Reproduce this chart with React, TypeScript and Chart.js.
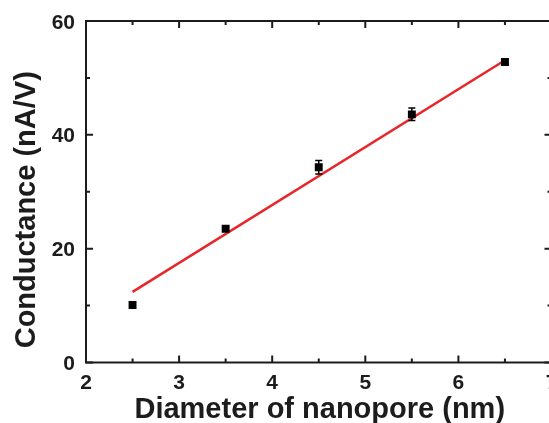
import React, { useEffect, useRef } from "react";
import { Chart, registerables } from "chart.js";

Chart.register(...registerables);

// ---- data ----
const diameters = [2.5, 3.5, 4.5, 5.5, 6.5];
const conductance = [10.1, 23.5, 34.3, 43.6, 52.8];
const conductanceErr = [0.5, 0.4, 1.2, 1.1, 0.5];
const fitX = [2.5, 6.5];
const fitY = [12.4, 53.1];
const xTickValues = [2, 3, 4, 5, 6, 7];
const xMinorValues = [2.5, 3.5, 4.5, 5.5, 6.5];
const yTickValues = [0, 20, 40, 60];
const yMinorValues = [10, 30, 50];
const xTitle = "Diameter of nanopore (nm)";
const yTitle = "Conductance (nA/V)";

const INK = "#1c1c1c";
const FONT = "'Liberation Sans', Arial, sans-serif";

const framePlugin = {
  id: "framePlugin",
  afterDatasetsDraw(chart: any) {
    const ctx = chart.ctx;
    const xs = chart.scales.x;
    const ys = chart.scales.y;
    // error bars
    ctx.save();
    ctx.strokeStyle = "#000";
    ctx.lineWidth = 1.5;
    diameters.forEach((d, i) => {
      const px = xs.getPixelForValue(d);
      const pTop = ys.getPixelForValue(conductance[i] + conductanceErr[i]);
      const pBot = ys.getPixelForValue(conductance[i] - conductanceErr[i]);
      ctx.beginPath();
      ctx.moveTo(px, pTop);
      ctx.lineTo(px, pBot);
      ctx.moveTo(px - 3.5, pTop);
      ctx.lineTo(px + 3.5, pTop);
      ctx.moveTo(px - 3.5, pBot);
      ctx.lineTo(px + 3.5, pBot);
      ctx.stroke();
    });
    ctx.restore();
  },
  afterDraw(chart: any) {
    const ctx = chart.ctx;
    const xs = chart.scales.x;
    const ys = chart.scales.y;
    const L = xs.getPixelForValue(2);
    const R = xs.getPixelForValue(7);
    const T = ys.getPixelForValue(60);
    const B = ys.getPixelForValue(0);
    ctx.save();
    ctx.strokeStyle = INK;
    ctx.lineWidth = 2;
    ctx.strokeRect(L, T, R - L, B - T);
    const major = 7;
    const minor = 4;
    ctx.beginPath();
    const xt = (v: number, len: number) => {
      const p = xs.getPixelForValue(v);
      ctx.moveTo(p, B);
      ctx.lineTo(p, B - len);
      ctx.moveTo(p, T);
      ctx.lineTo(p, T + len);
    };
    const yt = (v: number, len: number) => {
      const p = ys.getPixelForValue(v);
      ctx.moveTo(L, p);
      ctx.lineTo(L + len, p);
      ctx.moveTo(R, p);
      ctx.lineTo(R - len, p);
    };
    xTickValues.forEach((v) => xt(v, major));
    xMinorValues.forEach((v) => xt(v, minor));
    yTickValues.forEach((v) => yt(v, major));
    yMinorValues.forEach((v) => yt(v, minor));
    ctx.stroke();

    // tick labels
    ctx.fillStyle = INK;
    ctx.font = `bold 21px ${FONT}`;
    ctx.textBaseline = "alphabetic";
    ctx.textAlign = "center";
    xTickValues.forEach((v) => {
      ctx.fillText(String(v), xs.getPixelForValue(v), B + 26.5);
    });
    ctx.textAlign = "right";
    yTickValues.forEach((v) => {
      ctx.fillText(String(v), L - 11, ys.getPixelForValue(v) + 7.5);
    });

    // titles
    ctx.font = `bold 29px ${FONT}`;
    ctx.textAlign = "center";
    ctx.fillText(xTitle, (L + R) / 2 + 1, B + 55);
    ctx.translate(35, (T + B) / 2 + 18);
    ctx.rotate(-Math.PI / 2);
    ctx.fillText(yTitle, 0, 0);
    ctx.restore();
  },
};

export default function App() {
  const ref = useRef<HTMLCanvasElement | null>(null);
  useEffect(() => {
    document.body.style.margin = "0";
    if (!ref.current) return;
    const chart = new Chart(ref.current, {
      type: "scatter",
      data: {
        datasets: [
          {
            label: "fit",
            data: fitX.map((x, i) => ({ x, y: fitY[i] })),
            showLine: true,
            borderColor: "#e8262a",
            borderWidth: 2.5,
            pointRadius: 0,
            order: 2,
          },
          {
            label: "data",
            data: diameters.map((x, i) => ({ x, y: conductance[i] })),
            showLine: false,
            pointStyle: "rect",
            pointRadius: 5.6,
            backgroundColor: "#000",
            borderColor: "#000",
            borderWidth: 0,
            order: 1,
          },
        ],
      },
      options: {
        responsive: false,
        animation: false,
        devicePixelRatio: 1,
        layout: { padding: { left: 86, top: 21, right: 28.5, bottom: 60.5 } },
        plugins: { legend: { display: false }, tooltip: { enabled: false } },
        scales: {
          x: { type: "linear", min: 2, max: 7, display: false },
          y: { type: "linear", min: 0, max: 60, display: false },
        },
      },
      plugins: [framePlugin],
    });
    return () => chart.destroy();
  }, []);
  return (
    <div
      style={{
        position: "absolute",
        left: 0,
        top: 0,
        width: 549,
        height: 423,
        overflow: "hidden",
        background: "#fff",
      }}
    >
      <canvas ref={ref} width={580} height={423} style={{ width: 580, height: 423, display: "block" }} />
    </div>
  );
}
